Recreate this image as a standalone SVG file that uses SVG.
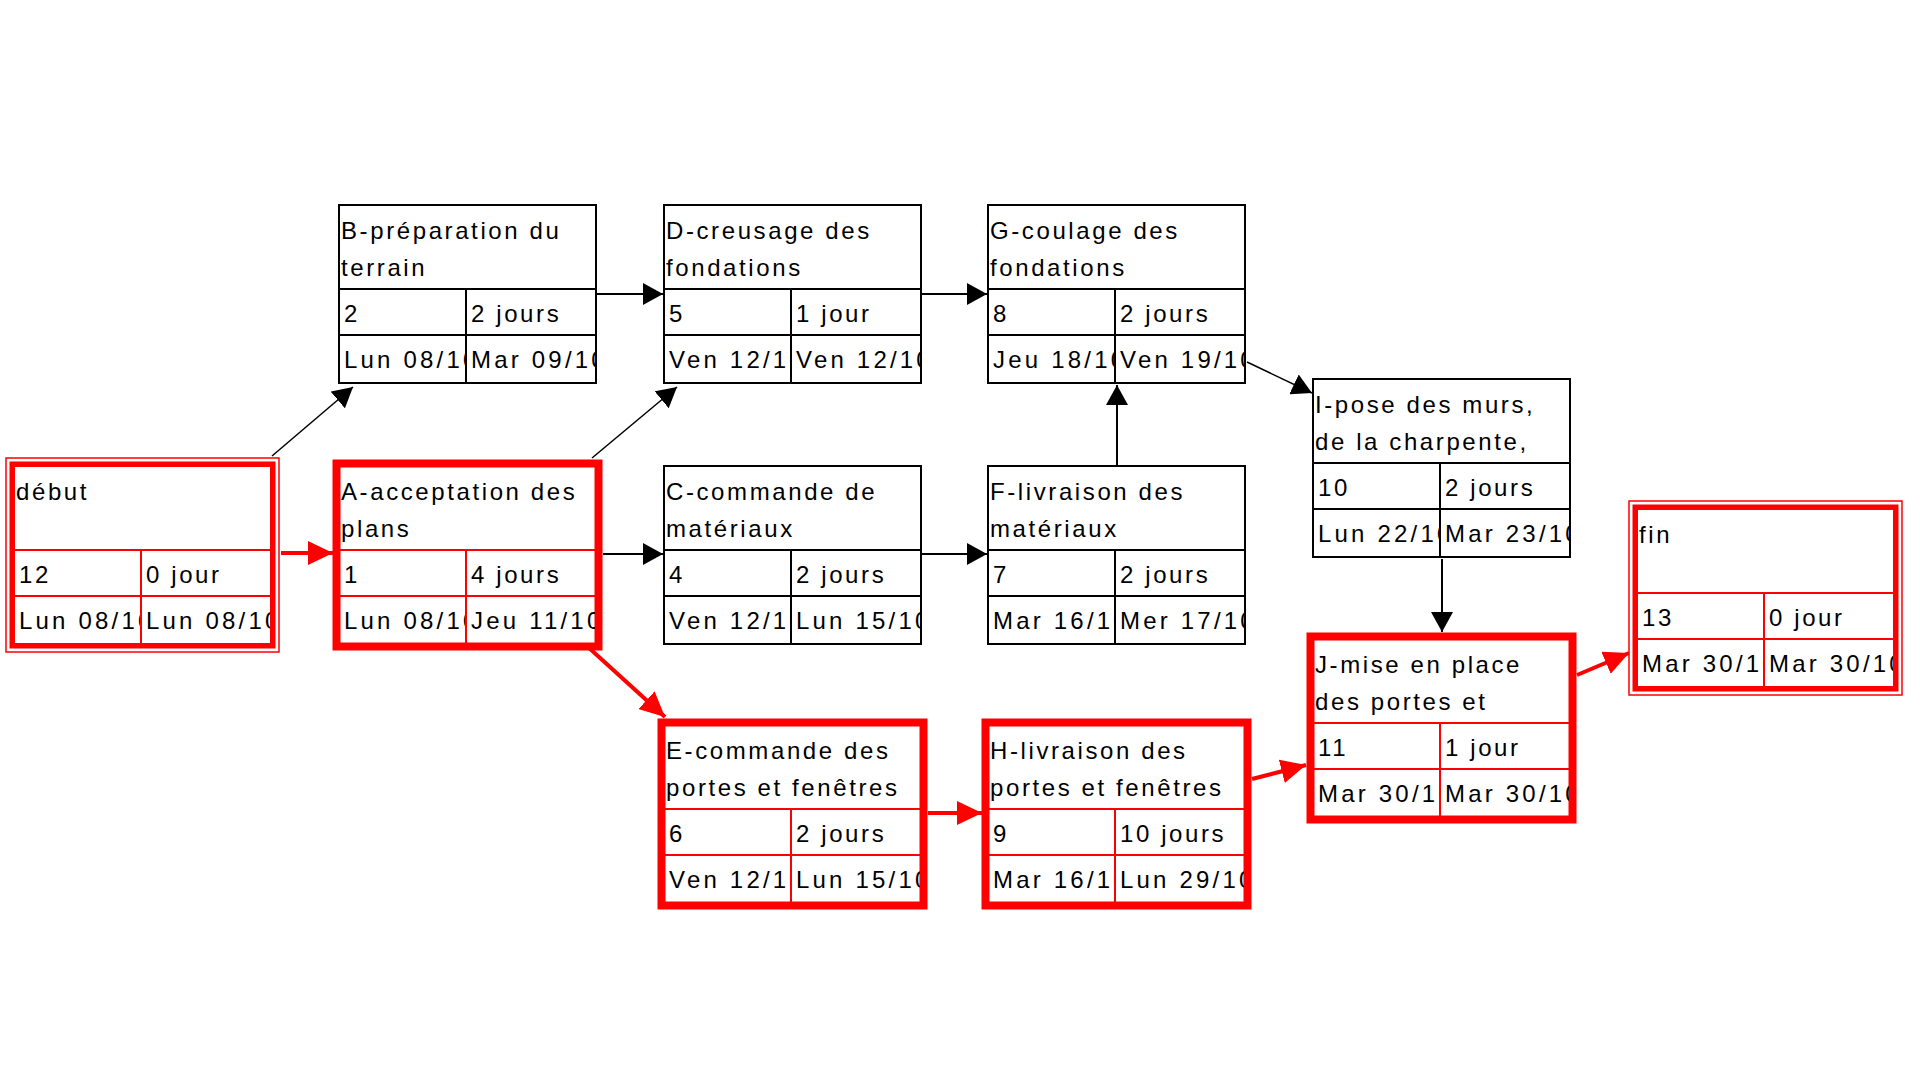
<svg xmlns="http://www.w3.org/2000/svg" width="1920" height="1080" viewBox="0 0 1920 1080">
<style>
text{font-family:"Liberation Sans",Arial,sans-serif;font-size:24px;letter-spacing:2.6px;fill:#000}
text.dt{letter-spacing:3.2px}
.bx{fill:#fff;stroke:#000;stroke-width:2}
.gl{stroke:#000;stroke-width:2;fill:none}
.rbx{fill:#fff;stroke:#f00;stroke-width:2}
.rgl{stroke:#f00;stroke-width:2;fill:none}
.thick{fill:none;stroke:#f00;stroke-width:8}
.ms1{fill:none;stroke:#f00;stroke-width:5}
.ms2{fill:none;stroke:#f00;stroke-width:1.5}
.lk{stroke:#000;stroke-width:2;fill:none;marker-end:url(#ab)}
.dg{stroke:#000;stroke-width:1.5;fill:none;marker-end:url(#ab)}
.rlk{stroke:#f00;stroke-width:4;fill:none;marker-end:url(#ar)}
</style>
<defs>
<marker id="ab" markerUnits="userSpaceOnUse" viewBox="0 0 20 22" refX="20" refY="11" markerWidth="20" markerHeight="22" orient="auto"><path d="M0,0 L20,11 L0,22 Z" fill="#000"/></marker>
<marker id="ar" markerUnits="userSpaceOnUse" viewBox="0 0 25 24" refX="25" refY="12" markerWidth="25" markerHeight="24" orient="auto"><path d="M0,0 L25,12 L0,24 Z" fill="#f00"/></marker>
<clipPath id="cl"><rect x="1" y="131" width="125" height="46"/></clipPath>
<clipPath id="cr"><rect x="128" y="131" width="128" height="46"/></clipPath>
</defs>
<rect width="1920" height="1080" fill="#fff"/>

<g id="node-debut" transform="translate(14,466)">
<rect class="rbx" width="257" height="178"/>
<path class="rgl" d="M0,84H257M0,130H257M127,84V178"/>
<rect class="ms1" x="-2" y="-2" width="261" height="182"/>
<rect class="ms2" x="-8" y="-8" width="273" height="194"/>
<text x="2" y="34">début</text>
<text x="5" y="117">12</text>
<text x="132" y="117">0 jour</text>
<text class="dt" x="5" y="163" clip-path="url(#cl)">Lun 08/10</text>
<text class="dt" x="132" y="163" clip-path="url(#cr)">Lun 08/10</text>
</g>

<g id="node-B" transform="translate(339,205)">
<rect class="bx" width="257" height="178"/>
<path class="gl" d="M0,84H257M0,130H257M127,84V178"/>
<text x="2" y="34">B-préparation du</text>
<text x="2" y="71">terrain</text>
<text x="5" y="117">2</text>
<text x="132" y="117">2 jours</text>
<text class="dt" x="5" y="163" clip-path="url(#cl)">Lun 08/10</text>
<text class="dt" x="132" y="163" clip-path="url(#cr)">Mar 09/10</text>
</g>

<g id="node-A" transform="translate(339,466)">
<rect class="rbx" width="257" height="178"/>
<path class="rgl" d="M0,84H257M0,130H257M127,84V178"/>
<rect class="thick" x="-2.5" y="-2.5" width="262" height="183"/>
<text x="2" y="34">A-acceptation des</text>
<text x="2" y="71">plans</text>
<text x="5" y="117">1</text>
<text x="132" y="117">4 jours</text>
<text class="dt" x="5" y="163" clip-path="url(#cl)">Lun 08/10</text>
<text class="dt" x="132" y="163" clip-path="url(#cr)">Jeu 11/10</text>
</g>

<g id="node-D" transform="translate(664,205)">
<rect class="bx" width="257" height="178"/>
<path class="gl" d="M0,84H257M0,130H257M127,84V178"/>
<text x="2" y="34">D-creusage des</text>
<text x="2" y="71">fondations</text>
<text x="5" y="117">5</text>
<text x="132" y="117">1 jour</text>
<text class="dt" x="5" y="163" clip-path="url(#cl)">Ven 12/10</text>
<text class="dt" x="132" y="163" clip-path="url(#cr)">Ven 12/10</text>
</g>

<g id="node-C" transform="translate(664,466)">
<rect class="bx" width="257" height="178"/>
<path class="gl" d="M0,84H257M0,130H257M127,84V178"/>
<text x="2" y="34">C-commande de</text>
<text x="2" y="71">matériaux</text>
<text x="5" y="117">4</text>
<text x="132" y="117">2 jours</text>
<text class="dt" x="5" y="163" clip-path="url(#cl)">Ven 12/10</text>
<text class="dt" x="132" y="163" clip-path="url(#cr)">Lun 15/10</text>
</g>

<g id="node-E" transform="translate(664,725)">
<rect class="rbx" width="257" height="178"/>
<path class="rgl" d="M0,84H257M0,130H257M127,84V178"/>
<rect class="thick" x="-2.5" y="-2.5" width="262" height="183"/>
<text x="2" y="34">E-commande des</text>
<text x="2" y="71">portes et fenêtres</text>
<text x="5" y="117">6</text>
<text x="132" y="117">2 jours</text>
<text class="dt" x="5" y="163" clip-path="url(#cl)">Ven 12/10</text>
<text class="dt" x="132" y="163" clip-path="url(#cr)">Lun 15/10</text>
</g>

<g id="node-G" transform="translate(988,205)">
<rect class="bx" width="257" height="178"/>
<path class="gl" d="M0,84H257M0,130H257M127,84V178"/>
<text x="2" y="34">G-coulage des</text>
<text x="2" y="71">fondations</text>
<text x="5" y="117">8</text>
<text x="132" y="117">2 jours</text>
<text class="dt" x="5" y="163" clip-path="url(#cl)">Jeu 18/10</text>
<text class="dt" x="132" y="163" clip-path="url(#cr)">Ven 19/10</text>
</g>

<g id="node-F" transform="translate(988,466)">
<rect class="bx" width="257" height="178"/>
<path class="gl" d="M0,84H257M0,130H257M127,84V178"/>
<text x="2" y="34">F-livraison des</text>
<text x="2" y="71">matériaux</text>
<text x="5" y="117">7</text>
<text x="132" y="117">2 jours</text>
<text class="dt" x="5" y="163" clip-path="url(#cl)">Mar 16/10</text>
<text class="dt" x="132" y="163" clip-path="url(#cr)">Mer 17/10</text>
</g>

<g id="node-H" transform="translate(988,725)">
<rect class="rbx" width="257" height="178"/>
<path class="rgl" d="M0,84H257M0,130H257M127,84V178"/>
<rect class="thick" x="-2.5" y="-2.5" width="262" height="183"/>
<text x="2" y="34">H-livraison des</text>
<text x="2" y="71">portes et fenêtres</text>
<text x="5" y="117">9</text>
<text x="132" y="117">10 jours</text>
<text class="dt" x="5" y="163" clip-path="url(#cl)">Mar 16/10</text>
<text class="dt" x="132" y="163" clip-path="url(#cr)">Lun 29/10</text>
</g>

<g id="node-I" transform="translate(1313,379)">
<rect class="bx" width="257" height="178"/>
<path class="gl" d="M0,84H257M0,130H257M127,84V178"/>
<text x="2" y="34">I-pose des murs,</text>
<text x="2" y="71">de la charpente,</text>
<text x="5" y="117">10</text>
<text x="132" y="117">2 jours</text>
<text class="dt" x="5" y="163" clip-path="url(#cl)">Lun 22/10</text>
<text class="dt" x="132" y="163" clip-path="url(#cr)">Mar 23/10</text>
</g>

<g id="node-J" transform="translate(1313,639)">
<rect class="rbx" width="257" height="178"/>
<path class="rgl" d="M0,84H257M0,130H257M127,84V178"/>
<rect class="thick" x="-2.5" y="-2.5" width="262" height="183"/>
<text x="2" y="34">J-mise en place</text>
<text x="2" y="71">des portes et</text>
<text x="5" y="117">11</text>
<text x="132" y="117">1 jour</text>
<text class="dt" x="5" y="163" clip-path="url(#cl)">Mar 30/10</text>
<text class="dt" x="132" y="163" clip-path="url(#cr)">Mar 30/10</text>
</g>

<g id="node-fin" transform="translate(1637,509)">
<rect class="rbx" width="257" height="178"/>
<path class="rgl" d="M0,84H257M0,130H257M127,84V178"/>
<rect class="ms1" x="-2" y="-2" width="261" height="182"/>
<rect class="ms2" x="-8" y="-8" width="273" height="194"/>
<text x="2" y="34">fin</text>
<text x="5" y="117">13</text>
<text x="132" y="117">0 jour</text>
<text class="dt" x="5" y="163" clip-path="url(#cl)">Mar 30/10</text>
<text class="dt" x="132" y="163" clip-path="url(#cr)">Mar 30/10</text>
</g>

<g id="connectors">
<path class="dg" d="M272,456 L353,387"/>
<path class="dg" d="M592,458 L677,387"/>
<path class="lk" d="M597,294 L663,294"/>
<path class="lk" d="M922,294 L987,294"/>
<path class="lk" d="M603,554 L663,554"/>
<path class="lk" d="M922,554 L987,554"/>
<path class="lk" d="M1117,465 L1117,385"/>
<path class="dg" d="M1247,362 L1312,393"/>
<path class="lk" d="M1442,559 L1442,632"/>
<path class="rlk" d="M281,553 L333,553"/>
<path class="rlk" d="M588,647 L665,717"/>
<path class="rlk" d="M928,813 L982,813"/>
<path class="rlk" d="M1252,779 L1306,765"/>
<path class="rlk" d="M1577,675 L1629,653"/>
</g>
</svg>
